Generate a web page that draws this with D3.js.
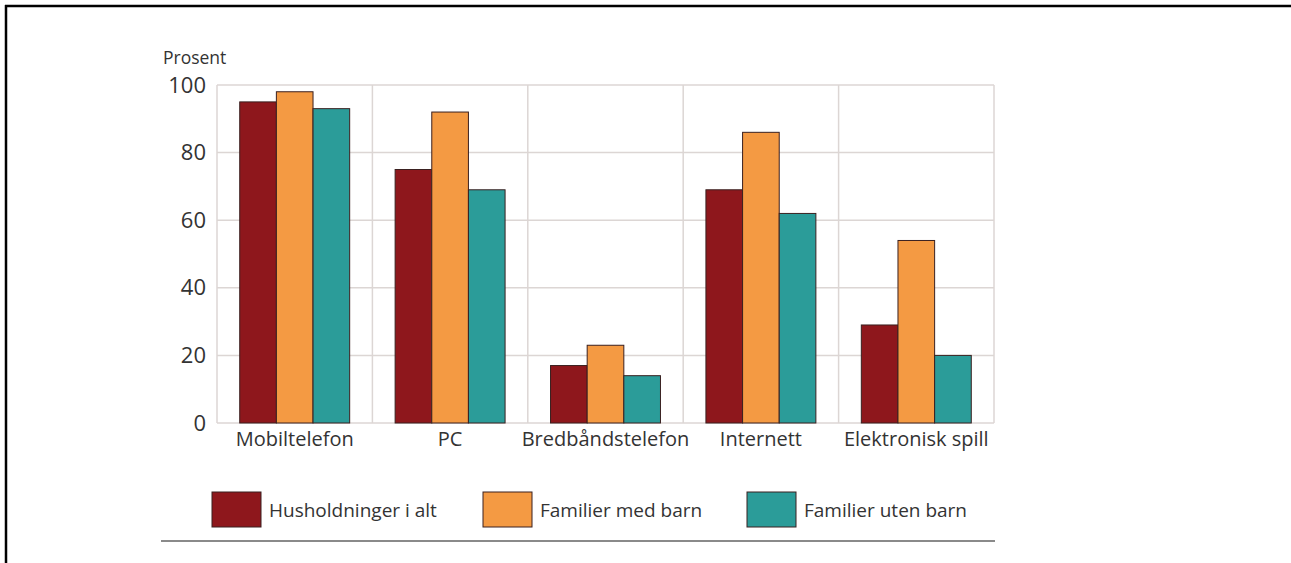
<!DOCTYPE html>
<html>
<head>
<meta charset="utf-8">
<script src="https://cdn.jsdelivr.net/npm/d3@7"></script>
<style>
  body { margin: 0; background: #fff; }
  svg { display: block; font-family: "Open Sans", "Noto Sans", sans-serif; }
</style>
</head>
<body>
<svg width="1291" height="563"></svg>
<script>
const categories = ["Mobiltelefon", "PC", "Bredbåndstelefon", "Internett", "Elektronisk spill"];
const seriesNames = ["Husholdninger i alt", "Familier med barn", "Familier uten barn"];
const husholdninger = [95, 75, 17, 69, 29];
const medBarn = [98, 92, 23, 86, 54];
const utenBarn = [93, 69, 14, 62, 20];
const yTicks = [0, 20, 40, 60, 80, 100];

const seriesValues = [husholdninger, medBarn, utenBarn];
const colors = ["#8e171c", "#f49a43", "#2b9c99"];

const svg = d3.select("svg");

// frame lines top and left
svg.append("line").attr("x1", 5).attr("x2", 1291).attr("y1", 6).attr("y2", 6)
   .attr("stroke", "#000").attr("stroke-width", 2.5);
svg.append("line").attr("x1", 6).attr("x2", 6).attr("y1", 5).attr("y2", 563)
   .attr("stroke", "#000").attr("stroke-width", 2.5);

const plotL = 217, plotR = 994, plotT = 85, plotB = 423;

const x = d3.scaleBand().domain(categories).range([plotL, plotR]).paddingInner(0).paddingOuter(0);
const xs = d3.scaleBand().domain(d3.range(seriesNames.length)).range([0, x.bandwidth()]).paddingOuter(0.62).paddingInner(0);
const y = d3.scaleLinear().domain([0, 100]).range([plotB, plotT]);

// grid
const grid = svg.append("g").attr("stroke", "#dcd6d4").attr("stroke-width", 1.5);
grid.selectAll("line.h").data(yTicks).enter().append("line")
    .attr("x1", plotL).attr("x2", plotR)
    .attr("y1", d => y(d)).attr("y2", d => y(d));
grid.selectAll("line.v").data(categories.concat(["end"])).enter().append("line")
    .attr("x1", (d, i) => i < categories.length ? x(d) : plotR)
    .attr("x2", (d, i) => i < categories.length ? x(d) : plotR)
    .attr("y1", plotT).attr("y2", plotB);

// bars
const rows = [];
categories.forEach((c, ci) => seriesValues.forEach((s, si) => rows.push({c, si, v: s[ci]})));
svg.append("g").selectAll("rect").data(rows).enter().append("rect")
    .attr("x", d => x(d.c) + xs(d.si))
    .attr("y", d => y(d.v))
    .attr("width", xs.bandwidth())
    .attr("height", d => y(0) - y(d.v))
    .attr("fill", d => colors[d.si])
    .attr("stroke", "#3a2020")
    .attr("stroke-width", 1);

// y axis
const yAxis = d3.axisLeft(y).tickValues(yTicks).tickSize(0).tickPadding(11);
const gy = svg.append("g").attr("transform", `translate(${plotL},0)`).call(yAxis)
    .attr("font-family", null).attr("font-size", 22);
gy.select(".domain").remove();
gy.selectAll("text").attr("fill", "#333");

svg.append("text").attr("x", 163).attr("y", 64).attr("font-size", 17.5).attr("fill", "#333").text("Prosent");

// x axis
const xAxis = d3.axisBottom(x).tickSize(0).tickPadding(9);
const gx = svg.append("g").attr("transform", `translate(0,${plotB})`).call(xAxis)
    .attr("font-family", null).attr("font-size", 20);
gx.select(".domain").remove();
gx.selectAll("text").attr("fill", "#333");

// legend
const legendX = [212, 483, 747];
const lg = svg.append("g").selectAll("g").data(seriesNames).enter().append("g")
    .attr("transform", (d, i) => `translate(${legendX[i]},492)`);
lg.append("rect").attr("width", 49).attr("height", 35)
    .attr("fill", (d, i) => colors[i]).attr("stroke", "#3a2020").attr("stroke-width", 1);
lg.append("text").attr("x", 57).attr("y", 25).attr("font-size", 19).attr("fill", "#333").text(d => d);

svg.append("line").attr("x1", 161).attr("x2", 995).attr("y1", 541).attr("y2", 541)
   .attr("stroke", "#8a8a8a").attr("stroke-width", 2);
</script>
</body>
</html>
